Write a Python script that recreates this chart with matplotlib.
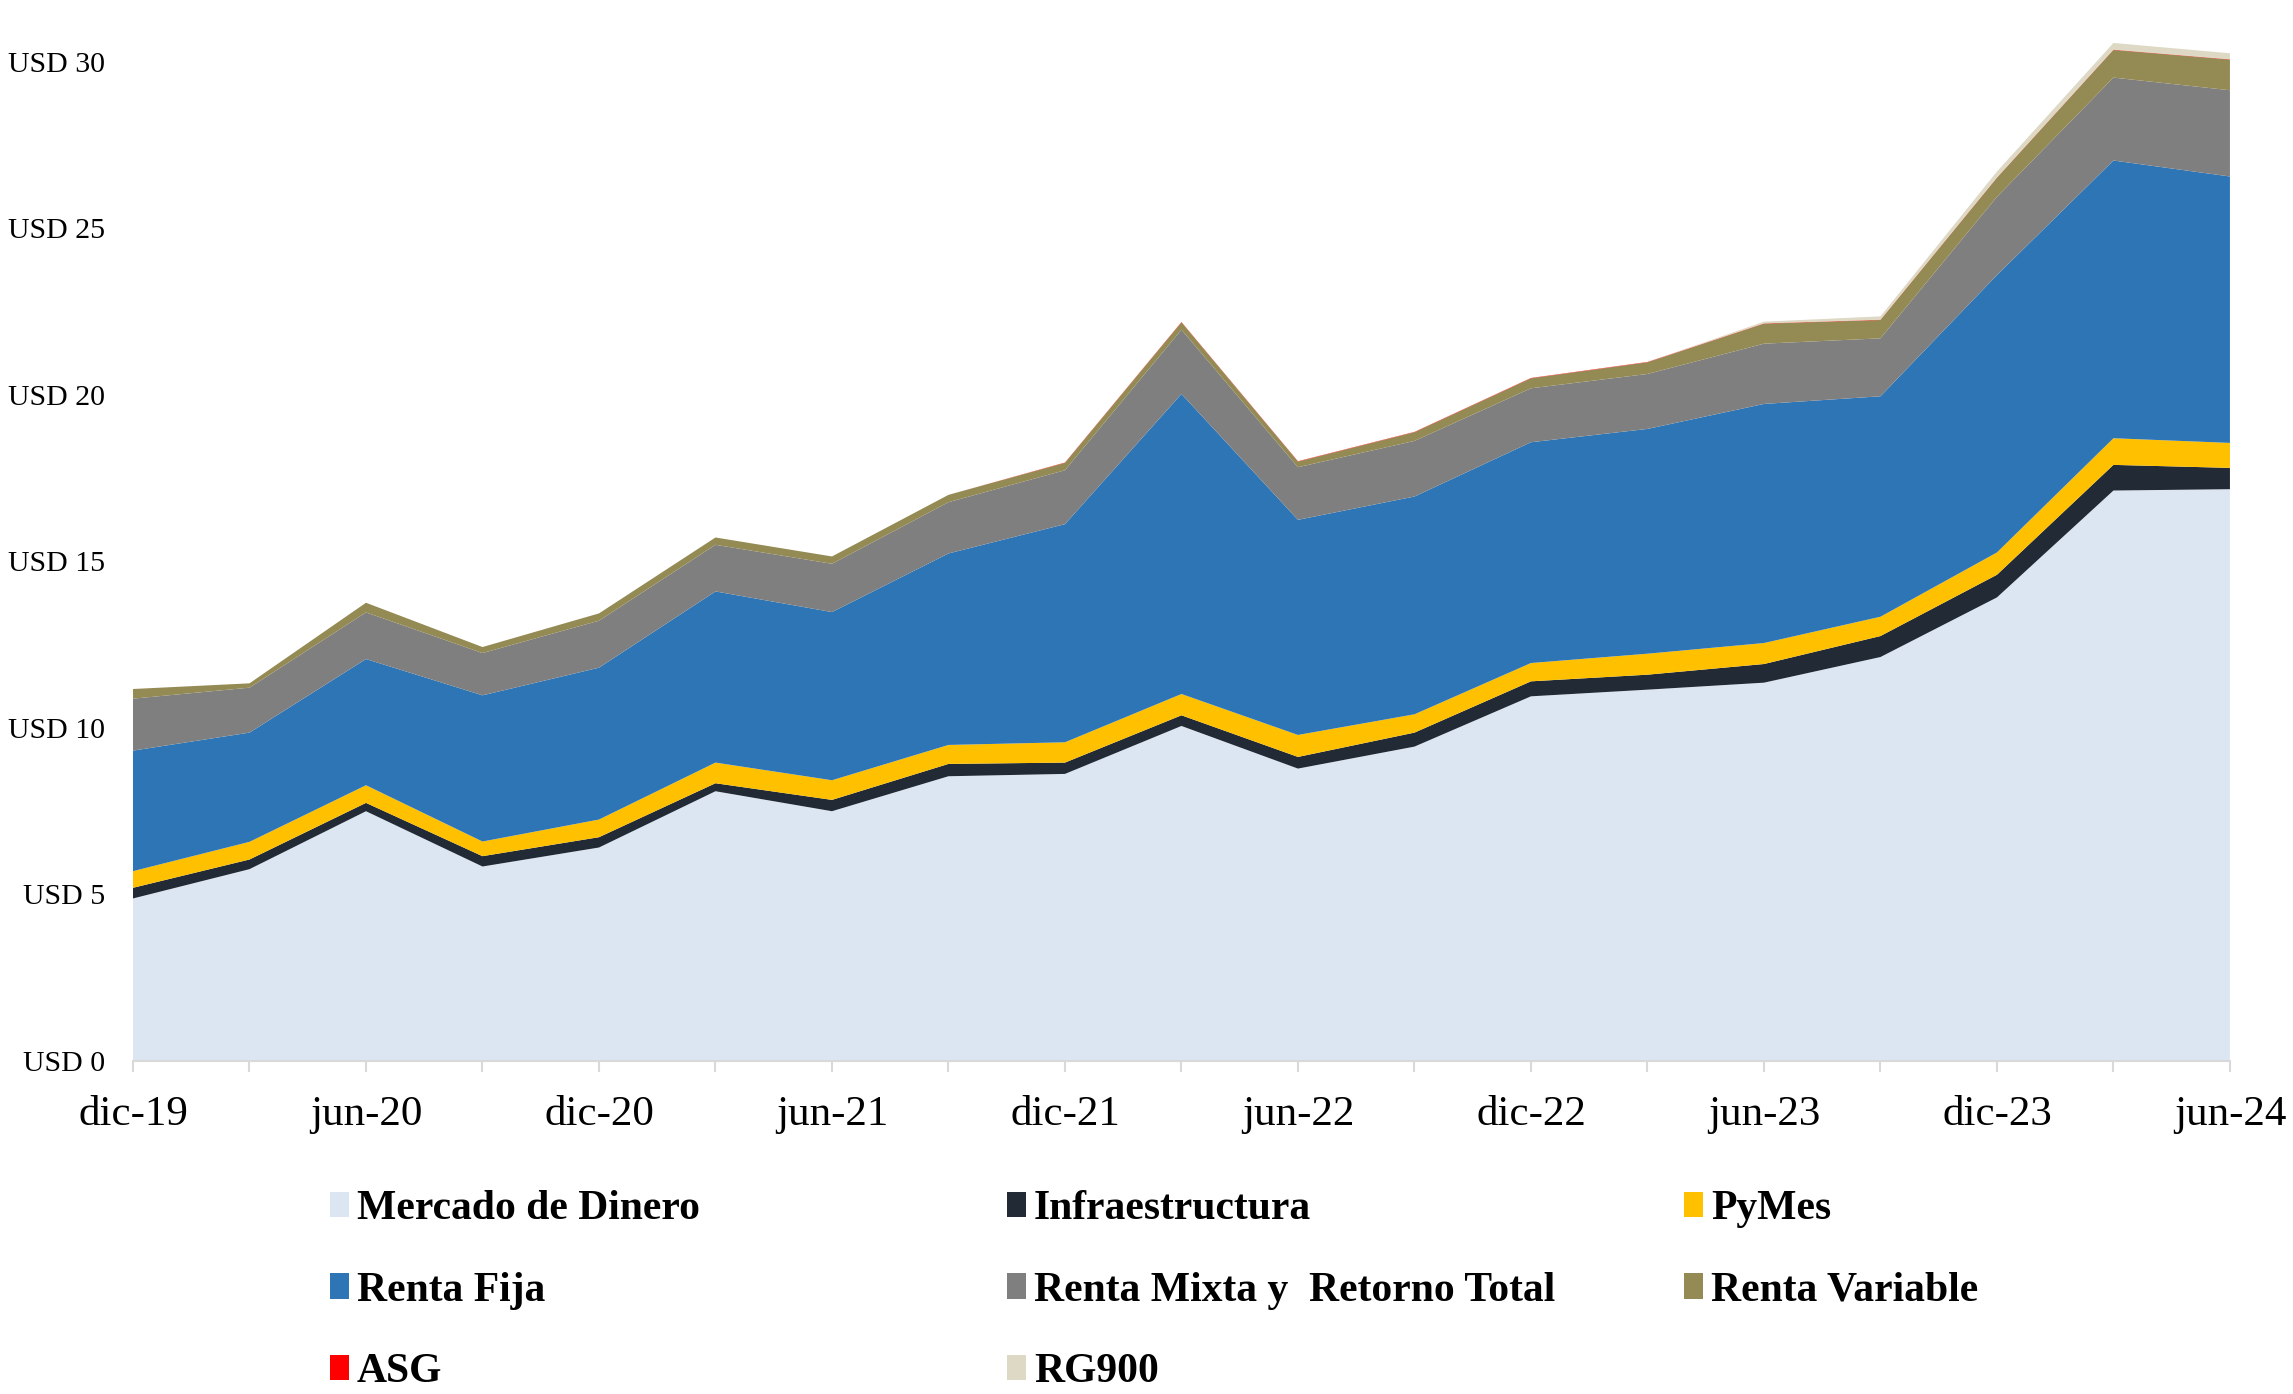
import matplotlib
matplotlib.use('Agg')
import matplotlib.pyplot as plt
from matplotlib.patches import Patch

# fechas trimestrales dic-19 .. jun-24
fechas = ['dic-19', 'mar-20', 'jun-20', 'sep-20', 'dic-20', 'mar-21', 'jun-21',
          'sep-21', 'dic-21', 'mar-22', 'jun-22', 'sep-22', 'dic-22', 'mar-23',
          'jun-23', 'sep-23', 'dic-23', 'mar-24', 'jun-24']

# patrimonio por categoria (miles de millones USD, aprox.)
mercado_dinero = [4.88, 5.76, 7.50, 5.84, 6.41, 8.10, 7.50, 8.55, 8.62, 10.06,
                  8.78, 9.44, 10.95, 11.15, 11.36, 12.13, 13.92, 17.13, 17.17]
infraestructura = [0.32, 0.29, 0.25, 0.31, 0.31, 0.24, 0.34, 0.37, 0.34, 0.32,
                   0.35, 0.42, 0.45, 0.45, 0.56, 0.63, 0.68, 0.77, 0.64]
pymes = [0.50, 0.53, 0.53, 0.44, 0.53, 0.62, 0.59, 0.57, 0.61, 0.64,
         0.66, 0.55, 0.55, 0.63, 0.63, 0.58, 0.67, 0.80, 0.75]
renta_fija = [3.62, 3.28, 3.79, 4.39, 4.56, 5.14, 5.05, 5.75, 6.55, 9.01,
              6.46, 6.54, 6.63, 6.75, 7.18, 6.62, 8.33, 8.34, 8.00]
renta_mixta = [1.56, 1.35, 1.40, 1.27, 1.41, 1.40, 1.45, 1.54, 1.62, 1.93,
               1.58, 1.67, 1.62, 1.65, 1.81, 1.74, 2.35, 2.49, 2.59]
renta_variable = [0.29, 0.13, 0.29, 0.18, 0.22, 0.22, 0.22, 0.22, 0.22, 0.22,
                  0.17, 0.26, 0.30, 0.35, 0.60, 0.55, 0.57, 0.83, 0.92]
asg = [0, 0, 0, 0, 0, 0, 0, 0, 0.01, 0.01,
       0.01, 0.01, 0.01, 0.01, 0.01, 0.01, 0.01, 0.01, 0.01]
rg900 = [0, 0, 0, 0, 0, 0, 0, 0, 0, 0,
         0, 0, 0, 0, 0.05, 0.10, 0.18, 0.20, 0.18]

nombres = ['Mercado de Dinero', 'Infraestructura', 'PyMes', 'Renta Fija',
           'Renta Mixta y  Retorno Total', 'Renta Variable', 'ASG', 'RG900']
colores = ['#DCE6F2', '#222A35', '#FFC000', '#2E75B6', '#7F7F7F', '#948A54',
           '#FF0000', '#DDD9C4']
series = [mercado_dinero, infraestructura, pymes, renta_fija, renta_mixta,
          renta_variable, asg, rg900]

plt.rcParams['font.family'] = ['Liberation Serif', 'DejaVu Serif']

fig = plt.figure(figsize=(22.93, 13.94), dpi=100)
ax = fig.add_axes([0.058, 0.2389, 0.9145, 0.7525])

x = list(range(len(fechas)))
ax.stackplot(x, *series, colors=colores, linewidth=0)

ax.set_xlim(0, len(fechas) - 1)
ax.set_ylim(0, 31.5)
ax.set_yticks([0, 5, 10, 15, 20, 25, 30])
ax.set_yticklabels(['USD %d' % v for v in [0, 5, 10, 15, 20, 25, 30]], fontsize=21.5)
ax.tick_params(axis='y', length=0, pad=20)

ax.set_xticks(x)
ax.set_xticklabels([f if i % 2 == 0 else '' for i, f in enumerate(fechas)], fontsize=31)
ax.tick_params(axis='x', length=8, width=1.5, color='#D9D9D9', pad=17)

for s in ['top', 'right', 'left']:
    ax.spines[s].set_visible(False)
ax.spines['bottom'].set_color('#D9D9D9')
ax.spines['bottom'].set_linewidth(1.5)

# leyenda en tres columnas
columnas = [[0, 3, 6], [1, 4, 7], [2, 5]]
x_cols = [330 / 2293, 1007 / 2293, 1684 / 2293]
for col, xc in zip(columnas, x_cols):
    handles = [Patch(facecolor=colores[i], edgecolor='none') for i in col]
    labels = [nombres[i] for i in col]
    leg = fig.legend(handles, labels, loc='upper left', bbox_to_anchor=(xc, 1 - 1190 / 1394),
                     frameon=False, borderpad=0, borderaxespad=0,
                     prop={'family': 'Liberation Serif', 'weight': 'bold', 'size': 30},
                     handlelength=0.45, handleheight=0.55, handletextpad=0.2,
                     labelspacing=1.05)

fig.savefig('out.png', dpi=100)
